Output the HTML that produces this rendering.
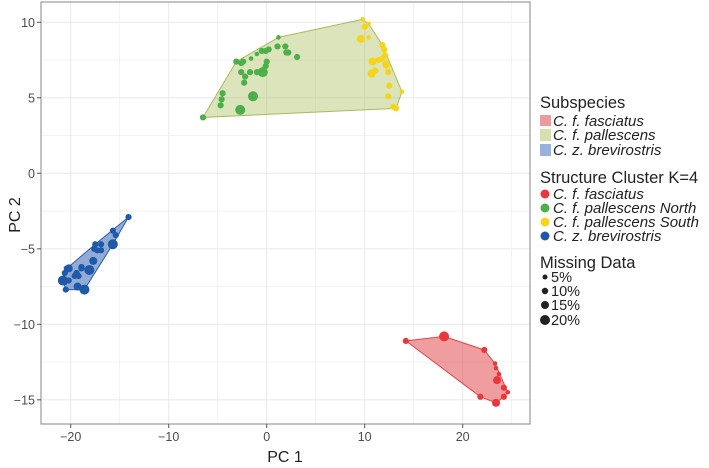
<!DOCTYPE html>
<html><head><meta charset="utf-8"><style>
html,body{margin:0;padding:0;background:#fff;}
svg{display:block;font-family:"Liberation Sans",Arial,sans-serif;}
</style></head><body>
<svg id="chart" width="709" height="468" viewBox="0 0 709 468">
<g id="grid"></g>
<g id="hulls"></g>
<g id="pts"></g>
<rect x="41" y="2" width="489" height="422" fill="none" stroke="#9a9a9a" stroke-width="1.2"/>
<g id="ticks"></g>
<text x="285" y="462" font-size="16" fill="#222" text-anchor="middle">PC 1</text>
<text x="20" y="215" font-size="16" fill="#222" text-anchor="middle" transform="rotate(-90 20 215)">PC 2</text>
<g id="legend">
<text x="540" y="108" font-size="16.5" fill="#222">Subspecies</text>
<rect x="540" y="115" width="11" height="11" fill="#ec9a9b"/>
<text x="553" y="126" font-size="15" font-style="italic" fill="#222">C. f. fasciatus</text>
<rect x="540" y="129" width="11" height="12" fill="#d8e0b2"/>
<text x="553" y="140" font-size="15" font-style="italic" fill="#222">C. f. pallescens</text>
<rect x="540" y="144" width="11" height="12" fill="#98b0de"/>
<text x="553" y="155" font-size="15" font-style="italic" fill="#222">C. z. brevirostris</text>
<text x="540" y="183" font-size="16.5" fill="#222">Structure Cluster K=4</text>
<circle cx="545" cy="194" r="4.5" fill="#e8383d"/>
<text x="553" y="199" font-size="15" font-style="italic" fill="#222">C. f. fasciatus</text>
<circle cx="545" cy="208" r="4.5" fill="#4daf4a"/>
<text x="553" y="213" font-size="15" font-style="italic" fill="#222">C. f. pallescens North</text>
<circle cx="545" cy="222" r="4.5" fill="#f5d51a"/>
<text x="553" y="227" font-size="15" font-style="italic" fill="#222">C. f. pallescens South</text>
<circle cx="545" cy="236" r="4.5" fill="#1f5aa8"/>
<text x="553" y="241" font-size="15" font-style="italic" fill="#222">C. z. brevirostris</text>
<text x="540" y="268" font-size="16.5" fill="#222">Missing Data</text>
<circle cx="545" cy="277" r="2.5" fill="#222"/>
<text x="551" y="282" font-size="14.5" fill="#222">5%</text>
<circle cx="545" cy="291" r="3.2" fill="#222"/>
<text x="551" y="296" font-size="14.5" fill="#222">10%</text>
<circle cx="545" cy="305" r="4" fill="#222"/>
<text x="551" y="310" font-size="14.5" fill="#222">15%</text>
<circle cx="545" cy="320" r="5" fill="#222"/>
<text x="551" y="325" font-size="14.5" fill="#222">20%</text>
</g>
</svg>
<script>
const xTicks=[-20,-10,0,10,20];
const yTicks=[-15,-10,-5,0,5,10];
const blueX=[-14.1,-15.7,-15.4,-15.7,-16.9,-17.5,-17.6,-17.3,-16.9,-17.7,-18.1,-18.9,-18.9,-19.4,-19.6,-19.2,-20.2,-20.4,-20.6,-20.8,-20.6,-20.2,-20.5,-19.3,-18.6];
const blueY=[-2.9,-3.8,-4.1,-4.7,-4.7,-4.7,-5.0,-5.1,-5.1,-5.8,-6.4,-6.2,-6.3,-6.6,-6.8,-6.8,-6.3,-6.3,-6.6,-7.1,-7.2,-7.1,-7.7,-7.5,-7.7];
const blueM=[10,10,10,20,10,10,10,10,10,15,20,10,10,10,10,10,15,10,10,20,10,10,10,15,20];
const greenX=[-6.5,-4.7,-4.6,-4.5,-2.7,-1.4,-2.3,-2.2,-2.6,-2.6,-3.1,-2.4,-1.6,-1.0,-0.4,-1.0,-1.7,-0.7,-0.1,0.0,-0.1,-0.5,0.2,1.1,1.9,2.0,2.2,3.1,1.2];
const greenY=[3.7,4.5,4.9,5.3,4.2,5.1,6.0,6.4,6.7,7.3,7.4,7.4,7.6,7.9,6.7,6.7,6.7,6.7,7.1,7.4,8.1,8.1,8.2,8.4,8.4,8.0,8.0,7.7,9.0];
const greenM=[10,10,10,10,20,20,10,10,10,10,10,10,5,5,20,10,10,10,10,10,10,10,10,10,10,10,10,10,5];
const yellowX=[9.8,10.0,10.4,9.6,10.4,11.8,12.0,12.1,10.8,11.4,11.8,12.2,10.7,11.1,12.4,12.5,12.4,12.9,13.2,13.8];
const yellowY=[10.2,9.7,9.9,8.9,9.0,8.5,8.2,7.8,7.4,7.5,7.6,7.2,6.6,6.8,6.7,5.8,5.1,4.4,4.3,5.4];
const yellowM=[5,10,5,15,5,10,10,10,15,10,10,15,15,10,10,10,10,10,10,5];
const redX=[14.2,18.1,22.2,23.3,23.4,23.7,23.5,24.2,24.6,24.2,21.8,23.4];
const redY=[-11.1,-10.8,-11.7,-12.6,-12.9,-13.3,-13.7,-14.2,-14.5,-14.8,-14.8,-15.2];
const redM=[10,20,10,5,5,5,15,10,5,10,10,15];

const NS='http://www.w3.org/2000/svg';
const sx=v=>266.7+v*9.8, sy=v=>173.3-v*15.1;
const rad=m=>({5:2.3,10:3.1,15:4,20:5}[m]||3);
function mk(tag,attrs,parent){const e=document.createElementNS(NS,tag);for(const k in attrs)e.setAttribute(k,attrs[k]);parent.appendChild(e);return e;}
const grid=document.getElementById('grid'),ticks=document.getElementById('ticks'),hulls=document.getElementById('hulls'),pts=document.getElementById('pts');
mk('rect',{x:41,y:2,width:489,height:422,fill:'#fff'},grid);
for(let v=-25;v<=25;v+=5){const x=sx(v);if(x<41||x>530)continue;const l=mk('line',{x1:x,x2:x,y1:2,y2:424,stroke:'#ebebeb','stroke-width':xTicks.includes(v)?1.1:0.6},grid);

}
for(let v=-17.5;v<=12.5;v+=2.5){const y=sy(v);if(y<2||y>424)continue;const l=mk('line',{x1:41,x2:530,y1:y,y2:y,stroke:'#ebebeb','stroke-width':yTicks.includes(v)?1.1:0.6},grid);

}
xTicks.forEach(v=>{const x=sx(v);mk('line',{x1:x,x2:x,y1:424,y2:428,stroke:'#555'},ticks);
const t=mk('text',{x:x,y:441,'font-size':12.5,fill:'#4d4d4d','text-anchor':'middle'},ticks);t.textContent=v<0?'\u2212'+(-v):v;

});
yTicks.forEach(v=>{const y=sy(v);mk('line',{x1:37,x2:41,y1:y,y2:y,stroke:'#555'},ticks);
const t=mk('text',{x:35,y:y+4.5,'font-size':12.5,fill:'#4d4d4d','text-anchor':'end'},ticks);t.textContent=v<0?'\u2212'+(-v):v;

});
function hull(p){p=p.slice().sort((a,b)=>a[0]-b[0]||a[1]-b[1]);const cr=(o,a,b)=>(a[0]-o[0])*(b[1]-o[1])-(a[1]-o[1])*(b[0]-o[0]);const lo=[],up=[];
for(const q of p){while(lo.length>=2&&cr(lo[lo.length-2],lo[lo.length-1],q)<=0)lo.pop();lo.push(q);}
for(const q of p.slice().reverse()){while(up.length>=2&&cr(up[up.length-2],up[up.length-1],q)<=0)up.pop();up.push(q);}
return lo.slice(0,-1).concat(up.slice(0,-1));}
function drawHull(xs,ys,fill,stroke,name){const p=xs.map((x,i)=>[sx(x),sy(ys[i])]);const h=hull(p);
const e=mk('polygon',{points:h.map(q=>q.join(',')).join(' '),fill:fill,stroke:stroke,'stroke-width':1},hulls);

}
drawHull(redX,redY,'rgba(226,60,65,0.5)','#d9474b','hull-fasciatus');
drawHull(greenX.concat(yellowX),greenY.concat(yellowY),'rgba(170,190,90,0.42)','#a9bb5e','hull-pallescens');
drawHull(blueX,blueY,'rgba(40,90,175,0.5)','#2c5ca8','hull-brevirostris');
function drawPts(xs,ys,ms,col,name){xs.forEach((x,i)=>{const c=mk('circle',{cx:sx(x),cy:sy(ys[i]),r:rad(ms[i]),fill:col},pts);

});}
drawPts(greenX,greenY,greenM,'#4daf4a','point-pallescens-north');
drawPts(yellowX,yellowY,yellowM,'#f5d51a','point-pallescens-south');
drawPts(blueX,blueY,blueM,'#1f5aa8','point-brevirostris');
drawPts(redX,redY,redM,'#e8383d','point-fasciatus');
</script>
</body></html>
